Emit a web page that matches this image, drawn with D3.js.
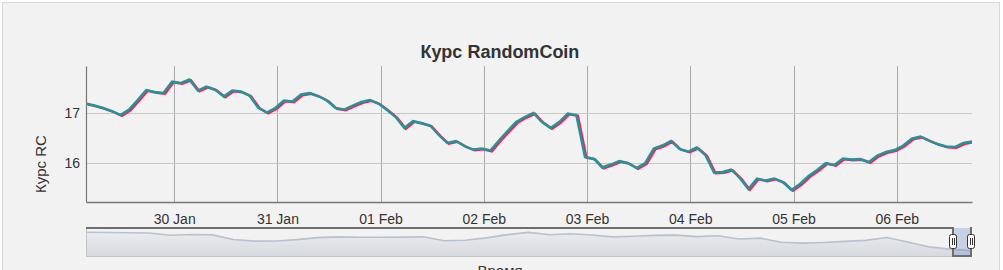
<!DOCTYPE html>
<html>
<head>
<meta charset="utf-8">
<script src="https://cdn.jsdelivr.net/npm/d3@7"></script>
<style>
  body { margin: 0; background: #fff; font-family: "Liberation Sans", Arial, sans-serif; }
</style>
</head>
<body>
<svg id="chart" width="1003" height="270"></svg>
<script>
// main series: one value every 2 hours starting 29 Jan 03:30
const seriesStart = new Date(2018, 0, 29, 3, 30);
const stepHours = 2;
const rates = [
  17.19, 17.15, 17.10, 17.04, 16.96, 17.07, 17.26, 17.46, 17.42, 17.40,
  17.63, 17.60, 17.67, 17.45, 17.53, 17.47, 17.33, 17.45, 17.43, 17.35,
  17.11, 17.01, 17.10, 17.25, 17.23, 17.37, 17.40, 17.34, 17.25, 17.10,
  17.07, 17.15, 17.22, 17.26, 17.19, 17.06, 16.92, 16.70, 16.84, 16.80,
  16.75, 16.56, 16.40, 16.44, 16.34, 16.27, 16.29, 16.25, 16.45, 16.64,
  16.82, 16.92, 17.00, 16.82, 16.70, 16.82, 16.99, 16.96, 16.12, 16.09,
  15.91, 15.97, 16.04, 16.00, 15.90, 16.00, 16.29, 16.35, 16.44, 16.28,
  16.23, 16.31, 16.16, 15.81, 15.82, 15.87, 15.70, 15.48, 15.69, 15.65,
  15.69, 15.62, 15.46, 15.58, 15.74, 15.86, 16.00, 15.96, 16.09, 16.07,
  16.08, 16.02, 16.15, 16.22, 16.26, 16.35, 16.49, 16.53, 16.45, 16.38,
  16.33, 16.32, 16.40, 16.43
];
const yTicks = [16, 17];

// navigator series: one value every 10 days, ending where the main series ends
const navStepDays = 10;
const navRates = [
  30.5, 30.4, 30.2, 30.0, 28.2, 28.8, 28.5, 25.0, 23.7, 23.8,
  24.9, 26.4, 27.0, 26.7, 26.7, 26.8, 27.1, 24.0, 24.4, 26.2,
  28.7, 30.4, 28.6, 29.4, 28.4, 27.0, 27.5, 28.1, 28.3, 27.2,
  27.9, 25.4, 26.0, 22.9, 22.2, 22.7, 23.5, 24.3, 26.5, 23.0,
  19.3, 17.6, 16.4
];

const title = "Курс RandomCoin";
const yTitle = "Курс RC";
const xTitle = "Время";

const data = rates.map((v, i) => ({ t: d3.timeHour.offset(seriesStart, i * stepHours), v }));
const seriesEnd = data[data.length - 1].t;
const navData = navRates.map((v, i) => ({
  t: d3.timeDay.offset(seriesEnd, -(navRates.length - 1 - i) * navStepDays), v
}));

const svg = d3.select("#chart");

svg.append("rect")
  .attr("x", 2.5).attr("y", 2.5)
  .attr("width", 997).attr("height", 290)
  .attr("fill", "#f2f2f2")
  .attr("stroke", "#d9d9d9");

const plot = { left: 86, right: 972, top: 66, bottom: 202 };

const x = d3.scaleTime()
  .domain([seriesStart, seriesEnd])
  .range([plot.left, plot.right]);
const y = d3.scaleLinear()
  .domain([15.22, 17.94])
  .range([plot.bottom, plot.top]);

// title
svg.append("text")
  .attr("x", 500).attr("y", 58)
  .attr("text-anchor", "middle")
  .attr("font-size", "18px")
  .attr("font-weight", "bold")
  .attr("fill", "#333")
  .text(title);

// grid
const days = x.ticks(d3.timeDay.every(1));
svg.append("g").selectAll("line")
  .data(days)
  .join("line")
    .attr("x1", d => Math.round(x(d)) + 0.5)
    .attr("x2", d => Math.round(x(d)) + 0.5)
    .attr("y1", plot.top)
    .attr("y2", plot.bottom)
    .attr("stroke", "#a8a8a8");

svg.append("g").selectAll("line")
  .data(yTicks)
  .join("line")
    .attr("x1", plot.left)
    .attr("x2", plot.right)
    .attr("y1", d => Math.round(y(d)) + 0.5)
    .attr("y2", d => Math.round(y(d)) + 0.5)
    .attr("stroke", "#c8c8c8");

// axes
const xAxis = svg.append("g")
  .attr("transform", `translate(0,${plot.bottom})`)
  .call(d3.axisBottom(x).tickValues(days).tickFormat(d3.timeFormat("%d %b")).tickSize(0).tickPadding(12));
xAxis.select(".domain").attr("stroke", "#777").attr("stroke-width", 1.5);
xAxis.selectAll("text").attr("font-size", "14px").attr("fill", "#333")
  .attr("font-family", "Liberation Sans, Arial, sans-serif");

const yAxis = svg.append("g")
  .attr("transform", `translate(${plot.left},0)`)
  .call(d3.axisLeft(y).tickValues(yTicks).tickFormat(d3.format("d")).tickSize(0).tickPadding(6));
yAxis.select(".domain").attr("stroke", "#777").attr("stroke-width", 1.2);
yAxis.selectAll("text").attr("font-size", "14px").attr("fill", "#333")
  .attr("font-family", "Liberation Sans, Arial, sans-serif");

svg.append("text")
  .attr("transform", "translate(46,164) rotate(-90)")
  .attr("text-anchor", "middle")
  .attr("font-size", "15px")
  .attr("fill", "#333")
  .text(yTitle);

// series
svg.append("clipPath").attr("id", "clip")
  .append("rect")
  .attr("x", plot.left + 1).attr("y", plot.top)
  .attr("width", plot.right - plot.left - 1).attr("height", plot.bottom - plot.top);

const line = d3.line().x(d => x(d.t)).y(d => y(d.v));
const series = svg.append("g").attr("clip-path", "url(#clip)");
series.append("path")
  .datum(data)
  .attr("d", line)
  .attr("transform", "translate(1.6,0.8)")
  .attr("fill", "none")
  .attr("stroke", "#f0245a")
  .attr("stroke-width", 2.4);
series.append("path")
  .datum(data)
  .attr("d", line)
  .attr("fill", "none")
  .attr("stroke", "#21959a")
  .attr("stroke-width", 2.4);

// navigator
const nav = { left: 86, right: 971, top: 228, bottom: 256 };
const xNav = d3.scaleTime()
  .domain([navData[0].t, seriesEnd])
  .range([nav.left, nav.right]);
const yNav = d3.scaleLinear()
  .domain([12.3, 33.8])
  .range([nav.bottom, nav.top]);

const grad = svg.append("defs").append("linearGradient")
  .attr("id", "navFill").attr("x1", 0).attr("x2", 0).attr("y1", 0).attr("y2", 1);
grad.append("stop").attr("offset", "0%").attr("stop-color", "#ebecef");
grad.append("stop").attr("offset", "100%").attr("stop-color", "#d6d9de");

svg.append("path")
  .datum(navData)
  .attr("d", d3.area().x(d => xNav(d.t)).y0(nav.bottom).y1(d => yNav(d.v)))
  .attr("fill", "url(#navFill)");
svg.append("path")
  .datum(navData)
  .attr("d", d3.line().x(d => xNav(d.t)).y(d => yNav(d.v)))
  .attr("fill", "none")
  .attr("stroke", "#b8c1d0")
  .attr("stroke-width", 1.6);

// navigator frame
svg.append("line")
  .attr("x1", nav.left + 0.5).attr("x2", nav.left + 0.5)
  .attr("y1", nav.top).attr("y2", nav.bottom)
  .attr("stroke", "#c4c4c4");
svg.append("line")
  .attr("x1", nav.left).attr("x2", nav.right)
  .attr("y1", nav.bottom + 0.5).attr("y2", nav.bottom + 0.5)
  .attr("stroke", "#c4c4c4");

// selected window
const selL = Math.round(xNav(seriesStart)), selR = Math.round(xNav(seriesEnd));
svg.append("rect")
  .attr("x", selL).attr("y", nav.top)
  .attr("width", selR - selL).attr("height", nav.bottom - nav.top)
  .attr("fill", "rgba(102,133,194,0.3)");
svg.append("path")
  .attr("d", `M${nav.left},${nav.top} H${selL} V${nav.bottom} H${selR} V${nav.top} H${selR + 1}`)
  .attr("fill", "none")
  .attr("stroke", "#6e6e6e")
  .attr("stroke-width", 2);

[selL, selR].forEach(hx => {
  const h = svg.append("g").attr("transform", `translate(${hx},${nav.top + 7})`);
  h.append("rect")
    .attr("x", -3.5).attr("y", -0.5)
    .attr("width", 7).attr("height", 14)
    .attr("rx", 2)
    .attr("fill", "#fff")
    .attr("stroke", "#333");
  [-1, 1].forEach(o => h.append("line")
    .attr("x1", o + 0.5).attr("x2", o + 0.5)
    .attr("y1", 3).attr("y2", 10)
    .attr("stroke", "#333"));
});

svg.append("text")
  .attr("x", 500).attr("y", 276)
  .attr("text-anchor", "middle")
  .attr("font-size", "15px")
  .attr("fill", "#333")
  .text(xTitle);
</script>
</body>
</html>
